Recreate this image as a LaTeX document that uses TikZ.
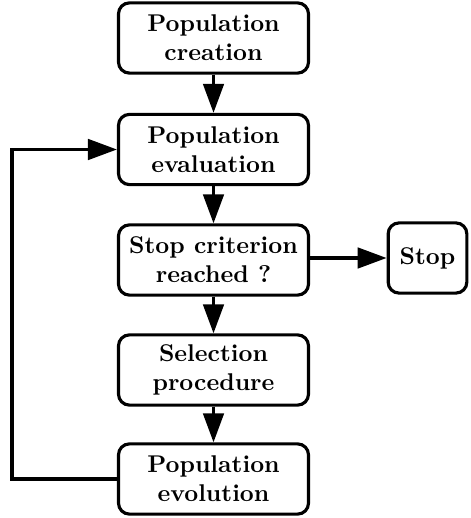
\documentclass[tikz,border=0pt]{standalone}
\usetikzlibrary{arrows.meta,positioning}

\begin{document}
\begin{tikzpicture}[x=0.4132pt,y=-0.4132pt,font=\bfseries,
    stage/.style={draw,line width=1.3pt,rounded corners=4.5pt,align=center,
      minimum width=78.5pt,minimum height=29pt,inner sep=2pt},
    flow/.style={line width=1.3pt,-{Triangle[length=12pt,width=8.5pt]}}]
  \useasboundingbox (0,0) rectangle (470,518);
  % main column of the loop
  \node[stage] (create) at (213.5,38) {Population\\creation};
  \node[stage] (evaluate) at (213.5,149.5) {Population\\evaluation};
  \node[stage] (criterion) at (213.5,260) {Stop criterion\\reached ?};
  \node[stage] (select) at (213.5,370) {Selection\\procedure};
  \node[stage] (evolve) at (213.5,479) {Population\\evolution};
  \node[stage,minimum width=32.5pt] (stop) at (427.5,258) {Stop};

  \draw[flow] (create) -- (evaluate);
  \draw[flow] (evaluate) -- (criterion);
  \draw[flow] (criterion) -- (select);
  \draw[flow] (select) -- (evolve);
  \draw[flow] (criterion.east |- stop) -- (stop);
  \coordinate (back) at (12,0);
  \draw[flow] (evolve.west) -- (evolve.west -| back) -- (evaluate.west -| back) -- (evaluate.west);
\end{tikzpicture}
\end{document}
